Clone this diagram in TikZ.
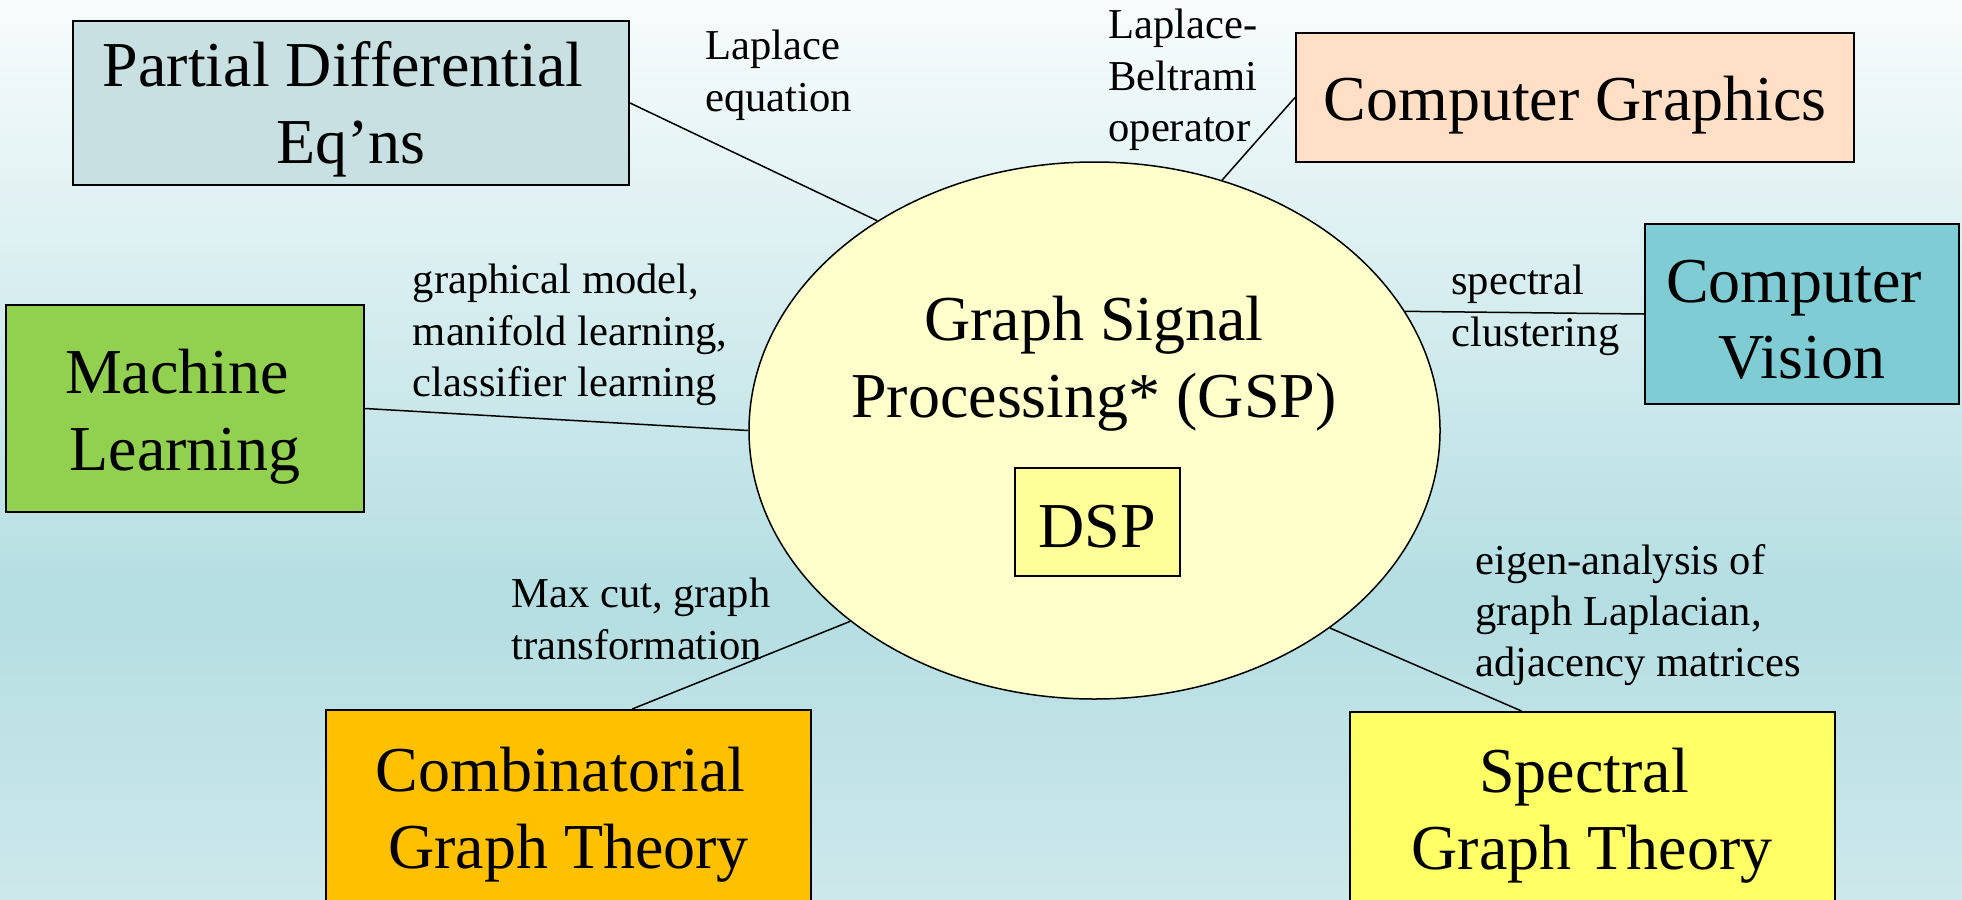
\documentclass[tikz,border=0pt]{standalone}
\usepackage{fontspec}
\setmainfont{Liberation Serif}
\usetikzlibrary{shapes.geometric}
\definecolor{bgtop}{HTML}{F8FCFC}
\definecolor{bgmid}{HTML}{B4DEE2}
\definecolor{bgbot}{HTML}{CDE8EB}
\definecolor{pdefill}{HTML}{C8E0E2}
\definecolor{cgfill}{HTML}{FFDFC6}
\definecolor{cvfill}{HTML}{80CCD4}
\definecolor{mlfill}{HTML}{92D050}
\definecolor{combfill}{HTML}{FFC000}
\definecolor{specfill}{HTML}{FFFF66}
\definecolor{gspfill}{HTML}{FFFFCC}
\definecolor{dspfill}{HTML}{FFFF99}
% strut that pushes a box label down a little
\newcommand{\topgap}[1]{\rule{0pt}{#1}}
% trailing space kept at the end of a line
\newcommand{\tail}{\kern0.25em}
\tikzset{
  field/.style={draw, line width=1pt, inner sep=0pt, align=center,
    font=\fontsize{32}{38.4}\selectfont},
  note/.style={inner sep=0pt, anchor=north west, align=left,
    font=\fontsize{21.3}{25.6}\selectfont},
  link/.style={line width=0.75pt}
}
\begin{document}
\begin{tikzpicture}[x=0.5pt,y=-0.5pt]
        %% background
        \clip (0,0) rectangle (1962,899);
        \shade[top color=bgtop,bottom color=bgmid] (0,0) rectangle (1962,600);
        \shade[top color=bgmid,bottom color=bgbot] (0,599) rectangle (1962,899);
        %% centre
        \node[draw, ellipse, line width=0.75pt, fill=gspfill, inner sep=0pt,
          minimum width=345.5pt, minimum height=268.5pt] (gsp) at (1094.5,430.5) {};
        \node[align=center, inner sep=0pt, font=\fontsize{32}{38.4}\selectfont] (gsptext) at (1094,363.5) {Graph Signal\\Processing* (GSP)};
        \node[field, fill=dspfill, minimum width=82.5pt, minimum height=54pt] (dsp) at (1097,522) {\topgap{26pt}DSP};
        %% fields
        \node[field, fill=pdefill, minimum width=278pt, minimum height=82pt] (pde) at (351,103) {\topgap{29pt}Partial Differential\tail\\Eq’ns};
        \node[field, fill=cgfill, minimum width=279pt, minimum height=64pt] (cg) at (1575,97.5) {\topgap{29.5pt}Computer Graphics};
        \node[field, fill=cvfill, minimum width=157pt, minimum height=90pt] (cv) at (1802,314) {\topgap{27pt}Computer\tail\\Vision};
        \node[field, fill=mlfill, minimum width=179pt, minimum height=103.5pt] (ml) at (185,408.5) {\topgap{30pt}Machine\tail\\Learning};
        \node[field, fill=combfill, minimum width=242.5pt, minimum height=105pt] (comb) at (568.5,815) {Combinatorial\tail\\Graph Theory};
        \node[field, fill=specfill, minimum width=242.5pt, minimum height=103.5pt] (spec) at (1592,815.5) {Spectral\tail\\Graph Theory};
        %% links
        \draw[link] (pde.east) -- (gsp.136.75);
        \draw[link] (cg.west) -- (gsp.63);
        \draw[link] (cv.west) -- (gsp.21);
        \draw[link] (ml.east) -- (gsp.west);
        \draw[link] (comb.59) -- (gsp.218);
        \draw[link] (spec.124) -- (gsp.320);
        %% notes
        \node[note] (lapl) at (705,30) {Laplace\\equation};
        \node[note] (lbo) at (1108,9) {Laplace-\\Beltrami\\operator};
        \node[note] (spc) at (1451,265) {spectral\\clustering};
        \node[note] (gml) at (412.5,264) {graphical model,\\manifold learning,\\classifier learning};
        \node[note] (mxc) at (511,578) {Max cut, graph\\transformation};
        \node[note] (eig) at (1475,544) {eigen-analysis of\\graph Laplacian,\\adjacency matrices};
\end{tikzpicture}
\end{document}
